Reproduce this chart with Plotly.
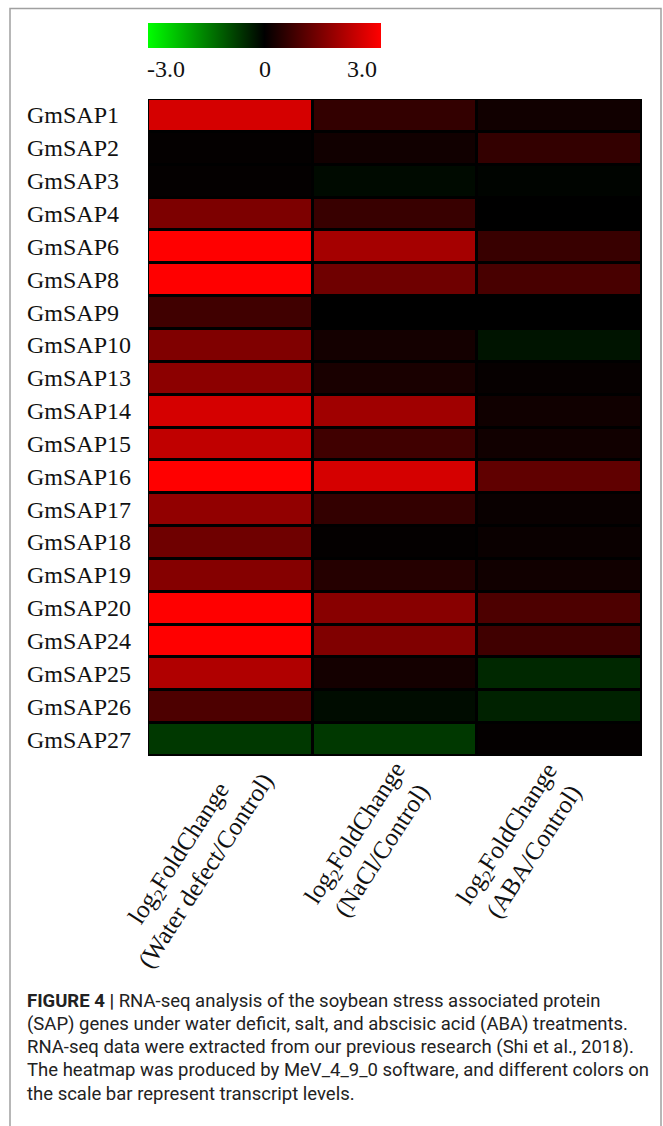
import plotly.graph_objects as go

W, H = 663, 1126

genes = ["GmSAP1", "GmSAP2", "GmSAP3", "GmSAP4", "GmSAP6", "GmSAP8", "GmSAP9",
         "GmSAP10", "GmSAP13", "GmSAP14", "GmSAP15", "GmSAP16", "GmSAP17",
         "GmSAP18", "GmSAP19", "GmSAP20", "GmSAP24", "GmSAP25", "GmSAP26", "GmSAP27"]
conditions = ["Water defect", "NaCl", "ABA"]
water_deficit = [2.5, 0.05, 0.05, 1.47, 3.0, 3.0, 0.75, 1.5, 1.65, 2.5,
                 2.26, 3.0, 1.72, 1.3, 1.56, 3.0, 3.0, 2.07, 0.9, -0.66]
nacl = [0.6, 0.2, -0.12, 0.66, 1.94, 1.3, 0.0, 0.24, 0.3, 1.88,
        0.75, 2.5, 0.6, 0.05, 0.44, 1.6, 1.5, 0.24, -0.14, -0.66]
aba = [0.2, 0.6, -0.05, 0.0, 0.66, 0.85, 0.0, -0.24, 0.07, 0.19,
       0.2, 1.13, 0.1, 0.12, 0.2, 0.9, 0.75, -0.47, -0.4, 0.05]
col_labels = ["log<sub>2</sub>FoldChange<br>(Water defect/Control)",
              "log<sub>2</sub>FoldChange<br>(NaCl/Control)",
              "log<sub>2</sub>FoldChange<br>(ABA/Control)"]
cbar_ticks = [-3.0, 0.0, 3.0]
cbar_text = ["-3.0", "0", "3.0"]
caption = [
    "<b>FIGURE 4 |</b> RNA-seq analysis of the soybean stress associated protein",
    "(SAP) genes under water deficit, salt, and abscisic acid (ABA) treatments.",
    "RNA-seq data were extracted from our previous research (Shi et al., 2018).",
    "The heatmap was produced by MeV_4_9_0 software, and different colors on",
    "the scale bar represent transcript levels.",
]

z = [[w, n, a] for w, n, a in zip(water_deficit, nacl, aba)]


def px(x):
    return x / W


def py(y):
    return 1 - y / H


SERIF = "Liberation Serif, Times New Roman, serif"
SANS = "Liberation Sans Narrow, Arial Narrow, Roboto, Liberation Sans, sans-serif"

fig = go.Figure()
fig.add_trace(go.Heatmap(
    z=z, x=conditions, y=genes,
    zmin=-3, zmax=3,
    colorscale=[[0, "rgb(0,255,0)"], [0.5, "rgb(0,0,0)"], [1, "rgb(255,0,0)"]],
    xgap=3, ygap=3,
    colorbar=dict(
        orientation="h", lenmode="pixels", len=233, thickness=25,
        thicknessmode="pixels",
        x=px(148), xanchor="left", y=py(23), yanchor="top",
        outlinewidth=0, showticklabels=False, ticks="",
        xpad=0, ypad=0,
    ),
    hoverinfo="skip",
))

ann = []
# colorbar tick labels
cb_pos = [166, 265, 362]
for t, xp in zip(cbar_text, cb_pos):
    ann.append(dict(x=px(xp), y=py(69), xref="paper", yref="paper", text=t,
                    showarrow=False, xanchor="center", yanchor="middle",
                    font=dict(family=SERIF, size=24, color="#111")))
# row labels
for g in genes:
    ann.append(dict(x=px(25), y=g, xref="paper", yref="y", text=g,
                    showarrow=False, xanchor="left", yanchor="middle",
                    font=dict(family=SERIF, size=24, color="#111")))
# column labels (rotated)
lab_centers = [(192, 862), (368, 842), (520, 843)]
for c, lbl, (cx, cy) in zip(conditions, col_labels, lab_centers):
    ann.append(dict(x=px(cx), y=py(cy), xref="paper", yref="paper", text=lbl,
                    showarrow=False, xanchor="center", yanchor="middle",
                    textangle=-57, align="center",
                    font=dict(family=SERIF, size=25, color="#111")))
# caption
for i, line in enumerate(caption):
    ann.append(dict(x=px(25), y=py(1000.5 + i * 23.3), xref="paper", yref="paper",
                    text=line, showarrow=False, xanchor="left", yanchor="middle",
                    font=dict(family=SANS, size=18.5, color="#222")))

fig.update_layout(
    width=W, height=H,
    margin=dict(l=0, r=0, t=0, b=0),
    paper_bgcolor="white",
    plot_bgcolor="black",
    xaxis=dict(domain=[px(148), px(642)], showticklabels=False, showgrid=False,
               zeroline=False, ticks=""),
    yaxis=dict(domain=[py(756), py(99)], autorange="reversed",
               showticklabels=False, showgrid=False, zeroline=False, ticks=""),
    annotations=ann,
    shapes=[dict(type="rect", xref="paper", yref="paper",
                 x0=px(10), x1=px(661), y0=py(1140), y1=py(8.5),
                 line=dict(color="#a0a0a0", width=1.5))],
    showlegend=False,
)

fig.write_html("out.html",
               config={"displayModeBar": False, "staticPlot": True},
               post_script="document.body.style.margin='0';"
                           "document.body.style.overflow='hidden';")
